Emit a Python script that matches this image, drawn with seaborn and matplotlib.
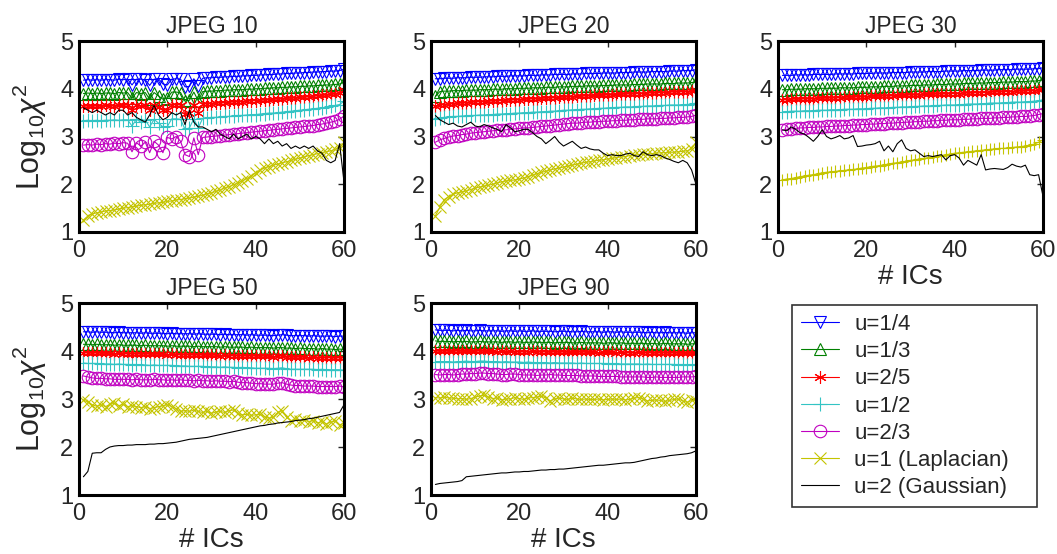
import matplotlib
matplotlib.use("Agg")
import pandas as pd
import matplotlib.pyplot as plt
import seaborn as sns

# x axis: number of ICs
ics = list(range(1, 61))
qualities = [10, 20, 30, 50, 90]
labels = ["u=1/4", "u=1/3", "u=2/5", "u=1/2", "u=2/3", "u=1 (Laplacian)", "u=2 (Gaussian)"]

# JPEG 10
q10_u14 = [4.18, 4.19, 4.18, 4.19, 4.18, 4.19, 4.19, 4.18, 4.2, 4.19,
           4.2, 4.08, 4.2, 4.2, 4.19, 4.07, 4.2, 4.21, 4.1, 4.08,
           4.2, 4.21, 4.2, 4.04, 4.05, 4.21, 4.06, 4.22, 4.23, 4.23,
           4.24, 4.24, 4.25, 4.25, 4.26, 4.26, 4.27, 4.27, 4.28, 4.28,
           4.29, 4.29, 4.3, 4.3, 4.31, 4.31, 4.32, 4.32, 4.33, 4.33,
           4.34, 4.34, 4.35, 4.35, 4.36, 4.36, 4.37, 4.37, 4.38, 4.41]
q10_u13 = [3.9, 3.91, 3.9, 3.91, 3.9, 3.91, 3.91, 3.9, 3.92, 3.91,
           3.92, 3.8, 3.92, 3.9, 3.92, 3.78, 3.92, 3.85, 3.78, 3.8,
           3.93, 3.93, 3.92, 3.74, 3.76, 3.93, 3.75, 3.94, 3.95, 3.95,
           3.96, 3.96, 3.97, 3.97, 3.98, 3.98, 3.98, 3.99, 3.99, 4.0,
           4.0, 4.01, 4.01, 4.02, 4.02, 4.03, 4.03, 4.04, 4.04, 4.05,
           4.05, 4.06, 4.06, 4.07, 4.07, 4.08, 4.08, 4.09, 4.1, 4.14]
q10_u25 = [3.63, 3.64, 3.63, 3.64, 3.63, 3.65, 3.64, 3.64, 3.65, 3.65,
           3.66, 3.56, 3.66, 3.64, 3.66, 3.55, 3.66, 3.62, 3.55, 3.56,
           3.67, 3.67, 3.66, 3.47, 3.5, 3.67, 3.5, 3.68, 3.69, 3.69,
           3.7, 3.7, 3.71, 3.72, 3.72, 3.73, 3.73, 3.74, 3.75, 3.75,
           3.76, 3.76, 3.77, 3.78, 3.78, 3.79, 3.8, 3.8, 3.81, 3.82,
           3.82, 3.83, 3.84, 3.85, 3.86, 3.87, 3.88, 3.89, 3.91, 3.97]
q10_u12 = [3.33, 3.34, 3.33, 3.34, 3.33, 3.34, 3.34, 3.35, 3.34, 3.35,
           3.35, 3.22, 3.36, 3.3, 3.35, 3.2, 3.36, 3.28, 3.2, 3.21,
           3.37, 3.37, 3.36, 3.15, 3.18, 3.37, 3.18, 3.38, 3.39, 3.4,
           3.4, 3.41, 3.42, 3.42, 3.43, 3.44, 3.44, 3.45, 3.46, 3.46,
           3.47, 3.48, 3.49, 3.49, 3.5, 3.51, 3.52, 3.53, 3.54, 3.55,
           3.56, 3.57, 3.58, 3.59, 3.6, 3.61, 3.63, 3.65, 3.67, 3.74]
q10_u23 = [2.82, 2.83, 2.82, 2.84, 2.83, 2.85, 2.84, 2.86, 2.85, 2.87,
           2.86, 2.68, 2.87, 2.8, 2.88, 2.66, 2.9, 2.82, 2.66, 2.98,
           2.95, 3.0, 2.9, 2.62, 2.58, 2.97, 2.62, 2.98, 2.99, 3.0,
           3.01, 3.02, 3.03, 3.04, 3.05, 3.06, 3.07, 3.08, 3.09, 3.1,
           3.11, 3.12, 3.13, 3.14, 3.15, 3.16, 3.17, 3.18, 3.19, 3.2,
           3.21, 3.22, 3.23, 3.25, 3.26, 3.28, 3.3, 3.32, 3.36, 3.43]
q10_u1 = [1.25, 1.33, 1.38, 1.4, 1.42, 1.44, 1.45, 1.46, 1.48, 1.5,
          1.51, 1.53, 1.54, 1.56, 1.57, 1.58, 1.6, 1.61, 1.62, 1.64,
          1.65, 1.67, 1.68, 1.7, 1.71, 1.73, 1.75, 1.77, 1.8, 1.82,
          1.85, 1.88, 1.92, 1.95, 1.99, 2.03, 2.07, 2.12, 2.18, 2.24,
          2.3, 2.34, 2.37, 2.4, 2.42, 2.45, 2.47, 2.5, 2.52, 2.55,
          2.57, 2.6, 2.62, 2.64, 2.66, 2.68, 2.7, 2.73, 2.76, 2.88]
q10_u2 = [3.6, 3.55, 3.5, 3.55, 3.5, 3.45, 3.5, 3.45, 3.55, 3.55,
          3.45, 3.5, 3.4, 3.35, 3.3, 3.45, 3.65, 3.45, 3.35, 3.4,
          3.5, 3.45, 3.5, 3.25, 3.55, 3.3, 3.2, 3.2, 3.15, 3.1,
          3.15, 3.05, 3.0, 2.95, 3.05, 2.95, 3.0, 3.05, 2.95, 3.0,
          2.95, 2.85, 2.95, 2.85, 2.9, 2.8, 2.85, 2.75, 2.8, 2.75,
          2.8, 2.75, 2.8, 2.7, 2.65, 2.5, 2.45, 2.5, 2.85, 2.05]

# JPEG 20
q20_u14 = [4.21, 4.21, 4.22, 4.22, 4.22, 4.23, 4.23, 4.23, 4.24, 4.24,
           4.24, 4.25, 4.25, 4.25, 4.26, 4.26, 4.26, 4.27, 4.27, 4.27,
           4.27, 4.28, 4.28, 4.28, 4.29, 4.29, 4.29, 4.3, 4.3, 4.3,
           4.3, 4.31, 4.31, 4.31, 4.32, 4.32, 4.32, 4.32, 4.33, 4.33,
           4.33, 4.33, 4.34, 4.34, 4.34, 4.35, 4.35, 4.35, 4.35, 4.36,
           4.36, 4.36, 4.36, 4.37, 4.37, 4.37, 4.38, 4.38, 4.38, 4.4]
q20_u13 = [3.84, 3.94, 3.95, 3.95, 3.96, 3.96, 3.96, 3.97, 3.97, 3.97,
           3.98, 3.98, 3.98, 3.99, 3.99, 3.99, 4.0, 4.0, 4.0, 4.01,
           4.01, 4.01, 4.02, 4.02, 4.02, 4.03, 4.03, 4.03, 4.04, 4.04,
           4.04, 4.05, 4.05, 4.05, 4.06, 4.06, 4.06, 4.06, 4.07, 4.07,
           4.07, 4.08, 4.08, 4.08, 4.08, 4.09, 4.09, 4.09, 4.1, 4.1,
           4.1, 4.1, 4.11, 4.11, 4.11, 4.12, 4.12, 4.12, 4.13, 4.14]
q20_u25 = [3.63, 3.66, 3.67, 3.68, 3.69, 3.7, 3.7, 3.71, 3.72, 3.72,
           3.73, 3.73, 3.74, 3.74, 3.75, 3.75, 3.76, 3.76, 3.77, 3.77,
           3.78, 3.78, 3.79, 3.79, 3.8, 3.8, 3.81, 3.81, 3.82, 3.82,
           3.83, 3.83, 3.84, 3.84, 3.85, 3.85, 3.86, 3.86, 3.86, 3.87,
           3.87, 3.88, 3.88, 3.89, 3.89, 3.89, 3.9, 3.9, 3.91, 3.91,
           3.91, 3.92, 3.92, 3.93, 3.93, 3.93, 3.94, 3.94, 3.95, 3.97]
q20_u12 = [3.37, 3.39, 3.4, 3.41, 3.42, 3.42, 3.43, 3.43, 3.44, 3.44,
           3.45, 3.45, 3.46, 3.46, 3.47, 3.47, 3.48, 3.48, 3.49, 3.49,
           3.5, 3.5, 3.51, 3.51, 3.52, 3.52, 3.53, 3.53, 3.54, 3.55,
           3.55, 3.56, 3.56, 3.57, 3.57, 3.58, 3.58, 3.59, 3.59, 3.6,
           3.6, 3.61, 3.61, 3.62, 3.62, 3.62, 3.63, 3.63, 3.64, 3.64,
           3.64, 3.65, 3.65, 3.66, 3.66, 3.66, 3.67, 3.67, 3.68, 3.7]
q20_u23 = [2.88, 2.93, 2.96, 2.99, 3.01, 3.02, 3.04, 3.05, 3.07, 3.08,
           3.09, 3.1, 3.11, 3.12, 3.13, 3.13, 3.14, 3.15, 3.16, 3.17,
           3.18, 3.18, 3.19, 3.2, 3.21, 3.22, 3.23, 3.24, 3.25, 3.26,
           3.27, 3.28, 3.28, 3.29, 3.3, 3.3, 3.31, 3.31, 3.32, 3.32,
           3.33, 3.33, 3.34, 3.34, 3.35, 3.35, 3.36, 3.36, 3.37, 3.37,
           3.37, 3.38, 3.38, 3.39, 3.39, 3.4, 3.4, 3.41, 3.42, 3.45]
q20_u1 = [1.34, 1.52, 1.68, 1.74, 1.79, 1.82, 1.84, 1.86, 1.89, 1.92,
          1.94, 1.96, 1.98, 2.0, 2.03, 2.05, 2.07, 2.08, 2.09, 2.11,
          2.13, 2.16, 2.19, 2.22, 2.25, 2.27, 2.3, 2.32, 2.34, 2.36,
          2.38, 2.4, 2.42, 2.44, 2.46, 2.47, 2.49, 2.5, 2.51, 2.53,
          2.54, 2.56, 2.57, 2.58, 2.6, 2.61, 2.62, 2.63, 2.64, 2.64,
          2.65, 2.66, 2.66, 2.67, 2.67, 2.68, 2.69, 2.7, 2.74, 2.88]
q20_u2 = [3.44, 3.35, 3.3, 3.25, 3.28, 3.22, 3.2, 3.25, 3.3, 3.22,
          3.2, 3.25, 3.22, 3.18, 3.15, 3.1, 3.25, 3.18, 3.1, 3.12,
          3.15, 3.15, 3.08, 3.0, 2.95, 2.85, 2.92, 3.0, 2.88, 2.8,
          2.85, 2.9, 2.82, 2.75, 2.78, 2.74, 2.72, 2.72, 2.65, 2.6,
          2.62, 2.6, 2.6, 2.63, 2.65, 2.6, 2.58, 2.68, 2.62, 2.6,
          2.62, 2.6, 2.55, 2.52, 2.48, 2.45, 2.5, 2.45, 2.3, 2.0]

# JPEG 30
q30_u14 = [4.28, 4.28, 4.28, 4.29, 4.29, 4.29, 4.29, 4.3, 4.3, 4.3,
           4.3, 4.3, 4.31, 4.31, 4.31, 4.31, 4.31, 4.32, 4.32, 4.32,
           4.32, 4.33, 4.33, 4.33, 4.33, 4.34, 4.34, 4.34, 4.34, 4.35,
           4.35, 4.35, 4.35, 4.36, 4.36, 4.36, 4.36, 4.37, 4.37, 4.37,
           4.37, 4.38, 4.38, 4.38, 4.38, 4.39, 4.39, 4.39, 4.39, 4.4,
           4.4, 4.4, 4.4, 4.41, 4.41, 4.41, 4.41, 4.42, 4.42, 4.44]
q30_u13 = [3.98, 3.98, 3.99, 3.99, 3.99, 4.0, 4.0, 4.0, 4.0, 4.01,
           4.01, 4.01, 4.01, 4.02, 4.02, 4.02, 4.02, 4.03, 4.03, 4.03,
           4.04, 4.04, 4.04, 4.05, 4.05, 4.05, 4.06, 4.06, 4.06, 4.07,
           4.07, 4.07, 4.08, 4.08, 4.08, 4.09, 4.09, 4.09, 4.1, 4.1,
           4.1, 4.11, 4.11, 4.11, 4.12, 4.12, 4.12, 4.13, 4.13, 4.13,
           4.14, 4.14, 4.14, 4.15, 4.15, 4.15, 4.16, 4.16, 4.17, 4.19]
q30_u25 = [3.77, 3.77, 3.78, 3.78, 3.78, 3.79, 3.79, 3.79, 3.8, 3.8,
           3.8, 3.81, 3.81, 3.81, 3.82, 3.82, 3.82, 3.83, 3.83, 3.83,
           3.84, 3.84, 3.84, 3.85, 3.85, 3.85, 3.86, 3.86, 3.86, 3.87,
           3.87, 3.87, 3.88, 3.88, 3.88, 3.89, 3.89, 3.89, 3.9, 3.9,
           3.9, 3.91, 3.91, 3.91, 3.92, 3.92, 3.92, 3.93, 3.93, 3.93,
           3.94, 3.94, 3.94, 3.95, 3.95, 3.95, 3.96, 3.96, 3.97, 3.99]
q30_u12 = [3.52, 3.52, 3.53, 3.53, 3.53, 3.54, 3.54, 3.54, 3.55, 3.55,
           3.55, 3.56, 3.56, 3.56, 3.57, 3.57, 3.57, 3.58, 3.58, 3.58,
           3.59, 3.59, 3.6, 3.6, 3.6, 3.61, 3.61, 3.62, 3.62, 3.62,
           3.63, 3.63, 3.64, 3.64, 3.64, 3.65, 3.65, 3.66, 3.66, 3.66,
           3.67, 3.67, 3.68, 3.68, 3.68, 3.69, 3.69, 3.7, 3.7, 3.7,
           3.71, 3.71, 3.72, 3.72, 3.72, 3.73, 3.73, 3.74, 3.75, 3.77]
q30_u23 = [3.13, 3.15, 3.16, 3.17, 3.18, 3.18, 3.19, 3.19, 3.2, 3.2,
           3.21, 3.21, 3.22, 3.22, 3.23, 3.23, 3.24, 3.24, 3.25, 3.25,
           3.26, 3.26, 3.27, 3.27, 3.28, 3.28, 3.29, 3.29, 3.3, 3.3,
           3.31, 3.31, 3.32, 3.32, 3.33, 3.33, 3.34, 3.34, 3.35, 3.35,
           3.35, 3.36, 3.36, 3.37, 3.37, 3.38, 3.38, 3.38, 3.39, 3.39,
           3.4, 3.4, 3.41, 3.41, 3.42, 3.42, 3.43, 3.44, 3.46, 3.48]
q30_u1 = [2.09, 2.11, 2.12, 2.14, 2.16, 2.17, 2.19, 2.2, 2.22, 2.24,
          2.25, 2.26, 2.27, 2.28, 2.29, 2.3, 2.31, 2.32, 2.34, 2.35,
          2.37, 2.38, 2.39, 2.41, 2.42, 2.44, 2.45, 2.47, 2.48, 2.5,
          2.51, 2.53, 2.54, 2.56, 2.57, 2.59, 2.6, 2.62, 2.63, 2.65,
          2.66, 2.67, 2.68, 2.69, 2.7, 2.71, 2.72, 2.73, 2.74, 2.75,
          2.75, 2.76, 2.77, 2.78, 2.79, 2.8, 2.82, 2.84, 2.88, 2.93]
q30_u2 = [3.14, 3.12, 3.2, 3.15, 3.08, 3.05, 2.98, 2.9, 3.0, 3.14,
          3.0, 2.95, 2.98, 3.02, 2.95, 2.97, 3.02, 2.79, 2.8, 2.82,
          2.83, 2.85, 2.9, 2.7, 2.8, 2.68, 2.85, 2.93, 2.75, 2.7,
          2.72, 2.65, 2.58, 2.6, 2.58, 2.6, 2.62, 2.51, 2.6, 2.62,
          2.55, 2.4, 2.5, 2.45, 2.4, 2.62, 2.3, 2.32, 2.33, 2.32,
          2.31, 2.35, 2.42, 2.38, 2.36, 2.4, 2.2, 2.18, 2.2, 1.75]

# JPEG 50
q50_u14 = [4.4, 4.4, 4.39, 4.4, 4.39, 4.39, 4.39, 4.38, 4.39, 4.38,
           4.38, 4.38, 4.38, 4.37, 4.38, 4.37, 4.37, 4.37, 4.37, 4.36,
           4.37, 4.36, 4.36, 4.36, 4.36, 4.35, 4.36, 4.35, 4.35, 4.35,
           4.35, 4.34, 4.35, 4.34, 4.34, 4.34, 4.34, 4.33, 4.34, 4.33,
           4.33, 4.33, 4.33, 4.32, 4.33, 4.34, 4.33, 4.32, 4.32, 4.32,
           4.32, 4.31, 4.32, 4.31, 4.31, 4.31, 4.31, 4.3, 4.31, 4.31]
q50_u13 = [4.14, 4.14, 4.13, 4.14, 4.13, 4.13, 4.13, 4.12, 4.13, 4.12,
           4.12, 4.12, 4.12, 4.11, 4.12, 4.11, 4.11, 4.11, 4.11, 4.1,
           4.11, 4.1, 4.1, 4.1, 4.1, 4.09, 4.1, 4.09, 4.09, 4.09,
           4.09, 4.08, 4.09, 4.08, 4.08, 4.08, 4.08, 4.07, 4.08, 4.07,
           4.07, 4.07, 4.07, 4.06, 4.07, 4.07, 4.06, 4.06, 4.05, 4.06,
           4.05, 4.05, 4.05, 4.04, 4.05, 4.04, 4.04, 4.03, 4.04, 4.03]
q50_u25 = [3.96, 3.96, 3.95, 3.96, 3.95, 3.95, 3.95, 3.94, 3.95, 3.94,
           3.94, 3.94, 3.94, 3.93, 3.94, 3.93, 3.93, 3.93, 3.93, 3.92,
           3.93, 3.92, 3.92, 3.92, 3.92, 3.91, 3.92, 3.91, 3.91, 3.91,
           3.91, 3.9, 3.91, 3.9, 3.9, 3.9, 3.9, 3.89, 3.9, 3.89,
           3.89, 3.89, 3.89, 3.88, 3.89, 3.9, 3.88, 3.87, 3.87, 3.87,
           3.87, 3.86, 3.87, 3.86, 3.86, 3.86, 3.86, 3.85, 3.86, 3.86]
q50_u12 = [3.75, 3.74, 3.74, 3.74, 3.73, 3.73, 3.73, 3.72, 3.73, 3.72,
           3.72, 3.71, 3.72, 3.71, 3.71, 3.7, 3.71, 3.7, 3.7, 3.7,
           3.7, 3.69, 3.69, 3.69, 3.68, 3.68, 3.68, 3.68, 3.67, 3.67,
           3.67, 3.66, 3.67, 3.66, 3.66, 3.65, 3.66, 3.65, 3.65, 3.64,
           3.64, 3.64, 3.64, 3.63, 3.64, 3.65, 3.63, 3.62, 3.62, 3.62,
           3.62, 3.62, 3.62, 3.61, 3.62, 3.61, 3.61, 3.61, 3.61, 3.6]
q50_u23 = [3.48, 3.46, 3.44, 3.43, 3.43, 3.42, 3.42, 3.41, 3.41, 3.41,
           3.41, 3.4, 3.41, 3.4, 3.4, 3.4, 3.41, 3.4, 3.4, 3.39,
           3.4, 3.39, 3.4, 3.39, 3.39, 3.38, 3.39, 3.38, 3.38, 3.37,
           3.38, 3.37, 3.37, 3.36, 3.37, 3.35, 3.34, 3.34, 3.33, 3.32,
           3.32, 3.31, 3.31, 3.31, 3.33, 3.34, 3.31, 3.29, 3.28, 3.28,
           3.27, 3.27, 3.27, 3.26, 3.26, 3.26, 3.26, 3.26, 3.27, 3.25]
q50_u1 = [2.98, 2.93, 2.88, 2.85, 2.88, 2.84, 2.89, 2.91, 2.86, 2.89,
          2.84, 2.86, 2.84, 2.82, 2.84, 2.8, 2.82, 2.84, 2.86, 2.88,
          2.84, 2.8, 2.74, 2.76, 2.74, 2.77, 2.74, 2.72, 2.74, 2.7,
          2.73, 2.74, 2.72, 2.76, 2.77, 2.7, 2.67, 2.68, 2.66, 2.67,
          2.68, 2.63, 2.6, 2.62, 2.72, 2.76, 2.62, 2.55, 2.58, 2.55,
          2.56, 2.53, 2.55, 2.5, 2.53, 2.48, 2.52, 2.54, 2.46, 2.5]
q50_u2 = [1.38, 1.49, 1.87, 1.88, 1.88, 1.95, 2.0, 2.02, 2.03, 2.03,
          2.04, 2.04, 2.05, 2.05, 2.05, 2.06, 2.06, 2.07, 2.07, 2.08,
          2.09, 2.1, 2.12, 2.14, 2.16, 2.17, 2.18, 2.19, 2.2, 2.22,
          2.24, 2.26, 2.28, 2.3, 2.32, 2.34, 2.36, 2.38, 2.4, 2.42,
          2.44, 2.45, 2.47, 2.48, 2.5, 2.51, 2.52, 2.53, 2.55, 2.56,
          2.57, 2.59, 2.6, 2.62, 2.64, 2.66, 2.68, 2.7, 2.72, 2.88]

# JPEG 90
q90_u14 = [4.44, 4.43, 4.43, 4.43, 4.42, 4.43, 4.42, 4.43, 4.42, 4.42,
           4.43, 4.42, 4.42, 4.42, 4.42, 4.41, 4.42, 4.42, 4.41, 4.42,
           4.41, 4.41, 4.42, 4.41, 4.41, 4.41, 4.41, 4.4, 4.41, 4.41,
           4.41, 4.4, 4.4, 4.41, 4.4, 4.4, 4.4, 4.4, 4.39, 4.4,
           4.4, 4.39, 4.4, 4.39, 4.39, 4.39, 4.39, 4.39, 4.38, 4.39,
           4.38, 4.38, 4.39, 4.38, 4.38, 4.38, 4.38, 4.37, 4.38, 4.38]
q90_u13 = [4.21, 4.2, 4.2, 4.2, 4.19, 4.2, 4.19, 4.2, 4.19, 4.19,
           4.2, 4.19, 4.19, 4.19, 4.19, 4.18, 4.19, 4.19, 4.18, 4.19,
           4.18, 4.18, 4.19, 4.18, 4.18, 4.18, 4.18, 4.17, 4.18, 4.18,
           4.18, 4.17, 4.17, 4.18, 4.17, 4.17, 4.17, 4.17, 4.16, 4.17,
           4.17, 4.16, 4.17, 4.16, 4.16, 4.16, 4.16, 4.16, 4.15, 4.16,
           4.15, 4.15, 4.16, 4.15, 4.15, 4.15, 4.15, 4.14, 4.15, 4.15]
q90_u25 = [4.0, 3.99, 4.0, 3.99, 3.99, 4.0, 3.99, 3.99, 3.99, 3.99,
           4.0, 3.99, 3.99, 3.99, 3.98, 3.99, 3.98, 3.99, 3.98, 3.98,
           3.98, 3.98, 3.99, 3.98, 3.98, 3.98, 3.97, 3.98, 3.97, 3.98,
           3.97, 3.97, 3.97, 3.98, 3.97, 3.97, 3.97, 3.96, 3.97, 3.97,
           3.97, 3.96, 3.97, 3.96, 3.96, 3.96, 3.97, 3.96, 3.96, 3.96,
           3.95, 3.96, 3.96, 3.95, 3.96, 3.95, 3.95, 3.95, 3.95, 3.95]
q90_u12 = [3.78, 3.78, 3.78, 3.78, 3.77, 3.78, 3.78, 3.79, 3.78, 3.78,
           3.79, 3.79, 3.78, 3.78, 3.78, 3.77, 3.78, 3.77, 3.77, 3.77,
           3.76, 3.77, 3.76, 3.76, 3.76, 3.76, 3.75, 3.76, 3.75, 3.75,
           3.75, 3.75, 3.74, 3.75, 3.74, 3.74, 3.74, 3.74, 3.74, 3.73,
           3.74, 3.73, 3.73, 3.73, 3.73, 3.73, 3.73, 3.72, 3.73, 3.72,
           3.72, 3.72, 3.72, 3.72, 3.72, 3.71, 3.72, 3.71, 3.71, 3.72]
q90_u23 = [3.51, 3.5, 3.51, 3.51, 3.5, 3.51, 3.52, 3.52, 3.53, 3.53,
           3.54, 3.54, 3.53, 3.53, 3.52, 3.51, 3.51, 3.52, 3.52, 3.51,
           3.5, 3.5, 3.5, 3.49, 3.5, 3.5, 3.51, 3.5, 3.5, 3.49,
           3.49, 3.49, 3.49, 3.48, 3.48, 3.48, 3.48, 3.47, 3.47, 3.47,
           3.47, 3.47, 3.46, 3.46, 3.46, 3.46, 3.46, 3.46, 3.45, 3.45,
           3.46, 3.45, 3.45, 3.45, 3.45, 3.45, 3.46, 3.46, 3.46, 3.47]
q90_u1 = [3.03, 3.02, 3.04, 3.02, 3.02, 3.0, 3.01, 2.99, 3.01, 3.04,
          3.06, 3.08, 3.04, 3.01, 3.02, 2.98, 3.0, 3.0, 3.03, 3.01,
          2.99, 3.02, 3.03, 3.04, 3.06, 3.02, 2.96, 3.0, 3.02, 3.0,
          2.99, 3.02, 3.0, 2.99, 3.0, 2.99, 2.99, 3.0, 2.98, 2.99,
          3.0, 2.99, 3.0, 2.98, 2.99, 3.02, 3.03, 3.0, 2.96, 2.97,
          2.98, 2.97, 2.95, 2.97, 2.99, 3.0, 2.96, 2.93, 2.97, 2.96]
q90_u2 = [1.22, 1.24, 1.25, 1.26, 1.27, 1.28, 1.3, 1.38, 1.39, 1.4,
          1.41, 1.42, 1.43, 1.44, 1.45, 1.46, 1.46, 1.47, 1.48, 1.48,
          1.49, 1.49, 1.5, 1.51, 1.52, 1.52, 1.53, 1.53, 1.54, 1.54,
          1.55, 1.56, 1.57, 1.58, 1.59, 1.6, 1.61, 1.62, 1.62, 1.63,
          1.64, 1.65, 1.66, 1.67, 1.67, 1.68, 1.7, 1.72, 1.74, 1.76,
          1.77, 1.79, 1.8, 1.82, 1.83, 1.84, 1.85, 1.86, 1.88, 1.92]

series = {
    10: [q10_u14, q10_u13, q10_u25, q10_u12, q10_u23, q10_u1, q10_u2],
    20: [q20_u14, q20_u13, q20_u25, q20_u12, q20_u23, q20_u1, q20_u2],
    30: [q30_u14, q30_u13, q30_u25, q30_u12, q30_u23, q30_u1, q30_u2],
    50: [q50_u14, q50_u13, q50_u25, q50_u12, q50_u23, q50_u1, q50_u2],
    90: [q90_u14, q90_u13, q90_u25, q90_u12, q90_u23, q90_u1, q90_u2],
}

# long table for seaborn
rows = []
for q in qualities:
    for lab, vals in zip(labels, series[q]):
        for ic, v in zip(ics, vals):
            rows.append((q, lab, ic, v))
df = pd.DataFrame(rows, columns=["quality", "shape", "ic", "logchi2"])

colors = ["#0000ff", "#008000", "#ff0000", "#33c4c4", "#c000c0", "#c4c400", "#000000"]
markers = ["v", "^", (6, 2, 0), "+", "o", "x", ""]
msizes = [9, 9, 9, 10, 9, 8, 0]

sns.set_style("white")
plt.rcParams["font.family"] = ["Liberation Sans", "DejaVu Sans"]
plt.rcParams["mathtext.fontset"] = "custom"
plt.rcParams["mathtext.rm"] = "Liberation Sans"
plt.rcParams["mathtext.it"] = "Liberation Sans:italic"

fig = plt.figure(figsize=(10.57, 5.54), dpi=100)
W, H = 1057, 554
# axes boxes in pixels: left, top, right, bottom
boxes = [(79, 41, 344, 232), (431, 41, 696, 232), (778, 41, 1043, 232),
         (79, 303, 344, 495), (431, 303, 696, 495)]

axes = []
for i, q in enumerate(qualities):
    l, t, r, b = boxes[i]
    ax = fig.add_axes([l / W, 1 - b / H, (r - l) / W, (b - t) / H])
    axes.append(ax)
    sub = df[df["quality"] == q]
    for j, lab in enumerate(labels):
        mk = markers[j]
        if q == 30 and j == 5:
            mk = "+"
        sns.lineplot(data=sub[sub["shape"] == lab], x="ic", y="logchi2", ax=ax,
                     color=colors[j], marker=mk, markersize=msizes[j],
                     markerfacecolor="none", markeredgecolor=colors[j],
                     markeredgewidth=0.8, linewidth=0.8, label=lab,
                     legend=False, errorbar=None)
    ax.set_xlim(0, 60)
    ax.set_ylim(1, 5)
    ax.set_xticks([0, 20, 40, 60])
    ax.set_yticks([1, 2, 3, 4, 5])
    ax.tick_params(direction="in", top=True, right=True, length=4, width=1,
                   labelsize=17, pad=6)
    ax.tick_params(axis="y", pad=4)
    for sp in ax.spines.values():
        sp.set_linewidth(2.2)
        sp.set_color("black")
    ax.set_title(f"JPEG {q}", fontsize=16.5, pad=6)
    ax.set_xlabel("# ICs" if q in (30, 50, 90) else "", fontsize=20, labelpad=1)
    ax.set_ylabel(r"Log$_{10}\chi^2$" if q in (10, 50) else "", fontsize=22, labelpad=8)

# legend in the empty sixth slot
lax = fig.add_axes([792 / W, 1 - 502 / H, (1037 - 792) / W, (502 - 305) / H])
lax.axis("off")
handles, labs = axes[0].get_legend_handles_labels()
leg = lax.legend(handles, labs, loc="upper left", bbox_to_anchor=(0, 0, 1, 1),
                 mode="expand", borderaxespad=0, frameon=True, fancybox=False,
                 edgecolor="black", fontsize=16, handlelength=1.7,
                 handletextpad=0.7, labelspacing=0.28, borderpad=0.4)
leg.get_frame().set_linewidth(1.2)

fig.savefig("out.png", dpi=100)
